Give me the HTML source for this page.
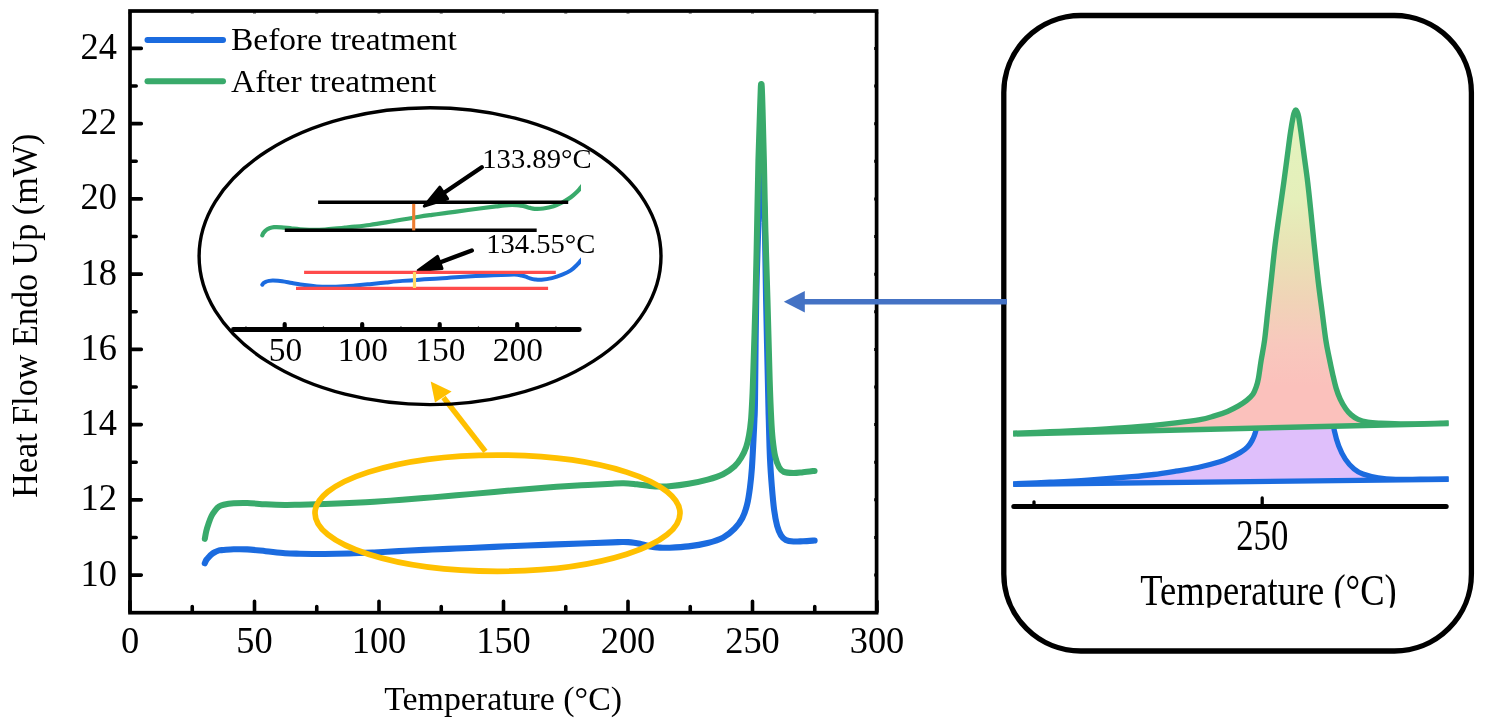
<!DOCTYPE html>
<html lang="en"><head><meta charset="utf-8"><title>DSC curves</title>
<style>html,body{margin:0;padding:0;background:#fff}svg{display:block;will-change:transform}</style></head>
<body>
<svg width="1486" height="728" viewBox="0 0 1486 728">
<defs><linearGradient id="gpk" x1="0" y1="110" x2="0" y2="410" gradientUnits="userSpaceOnUse"><stop offset="0" stop-color="#e2f3be"/><stop offset="0.3" stop-color="#e5efba"/><stop offset="0.47" stop-color="#e9e2b5"/><stop offset="0.63" stop-color="#f0d4b7"/><stop offset="0.78" stop-color="#f8c8bd"/><stop offset="0.92" stop-color="#fbc1bc"/><stop offset="1" stop-color="#fbc1bc"/></linearGradient></defs>
<rect width="1486" height="728" fill="#fff"/>
<path d="M204.80,563.30 C205.05,562.75 205.68,560.98 206.30,560.00 C206.92,559.02 207.63,558.35 208.50,557.40 C209.37,556.45 210.38,555.20 211.50,554.30 C212.62,553.40 213.95,552.65 215.20,552.00 C216.45,551.35 217.60,550.73 219.00,550.40 C220.40,550.07 221.15,550.18 223.60,550.00 C226.05,549.82 229.77,549.40 233.70,549.30 C237.63,549.20 241.87,549.08 247.20,549.40 C252.53,549.72 259.40,550.57 265.70,551.20 C272.00,551.83 279.28,552.78 285.00,553.20 C290.72,553.62 293.38,553.59 300.00,553.73 C306.62,553.86 316.45,554.03 324.70,553.99 C332.95,553.96 341.25,553.79 349.50,553.53 C357.75,553.27 365.97,552.86 374.20,552.46 C382.43,552.06 390.67,551.57 398.90,551.14 C407.13,550.72 415.35,550.30 423.60,549.92 C431.85,549.54 440.67,549.19 448.40,548.86 C456.13,548.53 460.22,548.37 470.00,547.95 C479.78,547.52 494.73,546.84 507.10,546.32 C519.47,545.80 531.83,545.31 544.20,544.84 C556.57,544.37 569.97,543.90 581.30,543.49 C592.63,543.07 605.42,542.60 612.20,542.35 C618.98,542.11 619.32,542.04 622.00,542.00 C624.68,541.96 626.30,541.98 628.30,542.10 C630.30,542.22 632.05,542.42 634.00,542.70 C635.95,542.98 637.33,543.18 640.00,543.80 C642.67,544.42 646.67,545.77 650.00,546.40 C653.33,547.03 656.80,547.38 660.00,547.60 C663.20,547.82 664.45,547.90 669.20,547.70 C673.95,547.50 682.08,547.18 688.50,546.40 C694.92,545.62 701.93,544.47 707.70,543.00 C713.47,541.53 718.62,539.98 723.10,537.60 C727.58,535.22 731.40,531.95 734.60,528.70 C737.80,525.45 740.22,522.12 742.30,518.10 C744.38,514.08 745.82,509.73 747.10,504.60 C748.38,499.47 749.20,493.38 750.00,487.30 C750.80,481.22 751.32,476.12 751.90,468.10 C752.48,460.08 753.08,447.22 753.50,439.20 C753.92,431.18 754.15,426.53 754.40,420.00 C754.65,413.47 754.70,420.00 755.00,400.00 C755.30,380.00 755.63,329.50 756.20,300.00 C756.77,270.50 757.80,243.50 758.40,223.00 C759.00,202.50 759.37,189.17 759.80,177.00 C760.23,164.83 760.75,155.00 761.00,150.00 C761.25,145.00 761.20,147.00 761.30,147.00 C761.40,147.00 761.32,145.00 761.60,150.00 C761.88,155.00 762.47,164.83 763.00,177.00 C763.53,189.17 764.28,202.50 764.80,223.00 C765.32,243.50 765.52,270.50 766.10,300.00 C766.68,329.50 767.85,380.00 768.30,400.00 C768.75,420.00 768.52,410.25 768.80,420.00 C769.08,429.75 769.48,447.28 770.00,458.50 C770.52,469.72 771.20,478.65 771.90,487.30 C772.60,495.95 773.33,503.98 774.20,510.40 C775.07,516.82 775.97,521.63 777.10,525.80 C778.23,529.97 779.55,533.03 781.00,535.40 C782.45,537.77 783.72,538.98 785.80,540.00 C787.88,541.02 790.63,541.30 793.50,541.50 C796.37,541.70 799.48,541.37 803.00,541.20 C806.52,541.03 812.67,540.62 814.60,540.50" fill="none" stroke="#1b6bdf" stroke-width="6.1" stroke-linecap="round" stroke-linejoin="round"/>
<path d="M204.80,538.90 C205.05,537.58 205.68,533.53 206.30,531.00 C206.92,528.47 207.63,526.20 208.50,523.70 C209.37,521.20 210.38,518.23 211.50,516.00 C212.62,513.77 213.95,511.87 215.20,510.30 C216.45,508.73 217.60,507.52 219.00,506.60 C220.40,505.68 221.15,505.35 223.60,504.80 C226.05,504.25 229.77,503.60 233.70,503.30 C237.63,503.00 241.87,502.83 247.20,503.00 C252.53,503.17 259.40,503.97 265.70,504.30 C272.00,504.63 279.28,504.93 285.00,505.00 C290.72,505.07 293.38,504.88 300.00,504.72 C306.62,504.55 316.45,504.29 324.70,504.01 C332.95,503.73 341.25,503.42 349.50,503.04 C357.75,502.65 365.97,502.22 374.20,501.71 C382.43,501.21 390.67,500.62 398.90,500.01 C407.13,499.41 415.35,498.74 423.60,498.07 C431.85,497.41 440.67,496.68 448.40,496.02 C456.13,495.37 460.22,495.00 470.00,494.12 C479.78,493.23 494.73,491.80 507.10,490.74 C519.47,489.67 531.83,488.62 544.20,487.72 C556.57,486.81 569.97,485.97 581.30,485.31 C592.63,484.64 605.42,484.05 612.20,483.71 C618.98,483.38 619.32,483.35 622.00,483.30 C624.68,483.25 626.30,483.30 628.30,483.40 C630.30,483.50 632.05,483.68 634.00,483.90 C635.95,484.12 637.33,484.37 640.00,484.70 C642.67,485.03 646.67,485.60 650.00,485.90 C653.33,486.20 656.80,486.43 660.00,486.50 C663.20,486.57 664.45,486.75 669.20,486.30 C673.95,485.85 682.08,484.92 688.50,483.80 C694.92,482.68 701.93,481.20 707.70,479.60 C713.47,478.00 718.62,476.43 723.10,474.20 C727.58,471.97 731.57,468.98 734.60,466.20 C737.63,463.42 739.37,460.72 741.30,457.50 C743.23,454.28 744.92,450.58 746.20,446.90 C747.48,443.22 748.20,439.88 749.00,435.40 C749.80,430.92 750.47,425.90 751.00,420.00 C751.53,414.10 751.87,406.67 752.20,400.00 C752.53,393.33 752.45,396.67 753.00,380.00 C753.55,363.33 754.83,325.00 755.50,300.00 C756.17,275.00 756.52,253.33 757.00,230.00 C757.48,206.67 757.90,180.00 758.40,160.00 C758.90,140.00 759.60,122.17 760.00,110.00 C760.40,97.83 760.58,91.28 760.80,87.00 C761.02,82.72 761.13,84.30 761.30,84.30 C761.47,84.30 761.58,82.72 761.80,87.00 C762.02,91.28 762.25,97.83 762.60,110.00 C762.95,122.17 763.43,140.00 763.90,160.00 C764.37,180.00 764.80,206.67 765.40,230.00 C766.00,253.33 766.78,275.00 767.50,300.00 C768.22,325.00 769.07,360.00 769.70,380.00 C770.33,400.00 770.80,410.13 771.30,420.00 C771.80,429.87 772.05,433.12 772.70,439.20 C773.35,445.28 774.15,451.85 775.20,456.50 C776.25,461.15 777.57,464.53 779.00,467.10 C780.43,469.67 781.38,470.92 783.80,471.90 C786.22,472.88 790.30,472.95 793.50,473.00 C796.70,473.05 799.48,472.55 803.00,472.20 C806.52,471.85 812.67,471.12 814.60,470.90" fill="none" stroke="#39aa6b" stroke-width="6.0" stroke-linecap="round" stroke-linejoin="round"/>
<rect x="130" y="11" width="746.6" height="601.7" fill="none" stroke="#000" stroke-width="3.7"/>
<path d="M131,575.10 H141.30 M131,537.48 H136.20 M131,499.86 H141.30 M131,462.24 H136.20 M131,424.62 H141.30 M131,387.00 H136.20 M131,349.38 H141.30 M131,311.76 H136.20 M131,274.14 H141.30 M131,236.52 H136.20 M131,198.90 H141.30 M131,161.28 H136.20 M131,123.66 H141.30 M131,86.04 H136.20 M131,48.42 H141.30 M130.00,611.7 V601.20 M192.25,611.7 V606.50 M254.50,611.7 V601.20 M316.75,611.7 V606.50 M379.00,611.7 V601.20 M441.25,611.7 V606.50 M503.50,611.7 V601.20 M565.75,611.7 V606.50 M628.00,611.7 V601.20 M690.25,611.7 V606.50 M752.50,611.7 V601.20 M814.75,611.7 V606.50 M877.00,611.7 V601.20" stroke="#000" stroke-width="3.6" stroke-linecap="round" fill="none"/>
<path d="M875,575.10 H874 M875,537.48 H874 M875,499.86 H874 M875,462.24 H874 M875,424.62 H874 M875,387.00 H874 M875,349.38 H874 M875,311.76 H874 M875,274.14 H874 M875,236.52 H874 M875,198.90 H874 M875,161.28 H874 M875,123.66 H874 M875,86.04 H874 M875,48.42 H874 M130.00,12.5 V13.6 M192.25,12.5 V13.6 M254.50,12.5 V13.6 M316.75,12.5 V13.6 M379.00,12.5 V13.6 M441.25,12.5 V13.6 M503.50,12.5 V13.6 M565.75,12.5 V13.6 M628.00,12.5 V13.6 M690.25,12.5 V13.6 M752.50,12.5 V13.6 M814.75,12.5 V13.6 M877.00,12.5 V13.6" stroke="#000" stroke-width="3" fill="none" opacity="0.8"/>
<g font-family="Liberation Serif, Times New Roman, serif" font-size="38" fill="#000">
<text transform="translate(117.0,585.6) scale(0.958,1)" text-anchor="end">10</text>
<text transform="translate(117.0,510.4) scale(0.958,1)" text-anchor="end">12</text>
<text transform="translate(117.0,435.1) scale(0.958,1)" text-anchor="end">14</text>
<text transform="translate(117.0,359.9) scale(0.958,1)" text-anchor="end">16</text>
<text transform="translate(117.0,284.6) scale(0.958,1)" text-anchor="end">18</text>
<text transform="translate(117.0,209.4) scale(0.958,1)" text-anchor="end">20</text>
<text transform="translate(117.0,134.2) scale(0.958,1)" text-anchor="end">22</text>
<text transform="translate(117.0,58.9) scale(0.958,1)" text-anchor="end">24</text>
<text transform="translate(130.0,653.0) scale(0.958,1)" text-anchor="middle">0</text>
<text transform="translate(254.5,653.0) scale(0.958,1)" text-anchor="middle">50</text>
<text transform="translate(379.0,653.0) scale(0.958,1)" text-anchor="middle">100</text>
<text transform="translate(503.5,653.0) scale(0.958,1)" text-anchor="middle">150</text>
<text transform="translate(628.0,653.0) scale(0.958,1)" text-anchor="middle">200</text>
<text transform="translate(752.5,653.0) scale(0.958,1)" text-anchor="middle">250</text>
<text transform="translate(877.0,653.0) scale(0.958,1)" text-anchor="middle">300</text>
</g>
<text transform="translate(503.1,709.5) scale(1.027,1)" text-anchor="middle" font-family="Liberation Serif, Times New Roman, serif" font-size="33">Temperature (°C)</text>
<text transform="translate(37.1,315.7) rotate(-90) scale(0.981,1)" text-anchor="middle" font-family="Liberation Serif, Times New Roman, serif" font-size="34.8">Heat Flow Endo Up (mW)</text>
<path d="M147.5,40 H223" stroke="#1b6bdf" stroke-width="6" stroke-linecap="round"/>
<path d="M147.5,81.3 H223" stroke="#39aa6b" stroke-width="6" stroke-linecap="round"/>
<text transform="translate(231.0,50.4) scale(1.03,1)" font-family="Liberation Serif, Times New Roman, serif" font-size="32.5">Before treatment</text>
<text transform="translate(231.0,92.0) scale(1.03,1)" font-family="Liberation Serif, Times New Roman, serif" font-size="32.5">After treatment</text>
<ellipse cx="497.5" cy="513.2" rx="182.5" ry="58.1" fill="none" stroke="#ffc000" stroke-width="5.7"/>
<path d="M485.4,451.4 L443.5,397.5" stroke="#ffc000" stroke-width="5.3" fill="none"/>
<path d="M430.7,381.5 L451.6,391.5 L435.0,402.6 Z" fill="#ffc000"/>
<ellipse cx="430.05" cy="256.2" rx="230.95" ry="148.4" fill="none" stroke="#000" stroke-width="3.4"/>
<clipPath id="ci"><rect x="250" y="150" width="331.0" height="160"/></clipPath>
<path clip-path="url(#ci)" d="M262.30,235.40 C262.47,235.03 262.87,233.88 263.30,233.20 C263.73,232.52 264.32,231.90 264.90,231.30 C265.48,230.70 266.12,230.08 266.80,229.60 C267.48,229.12 267.80,228.80 269.00,228.40 C270.20,228.00 271.93,227.38 274.00,227.20 C276.07,227.02 278.38,227.08 281.40,227.30 C284.42,227.52 288.25,228.13 292.10,228.53 C295.95,228.92 300.78,229.43 304.50,229.67 C308.22,229.91 310.97,230.00 314.40,229.97 C317.83,229.93 321.27,229.74 325.10,229.47 C328.93,229.21 334.08,228.69 337.40,228.39 C340.72,228.09 342.07,227.95 345.00,227.67 C347.93,227.39 350.88,227.16 355.00,226.71 C359.12,226.26 364.50,225.68 369.70,224.96 C374.90,224.24 380.70,223.30 386.20,222.39 C391.70,221.48 397.20,220.42 402.70,219.48 C408.20,218.53 414.32,217.49 419.20,216.73 C424.08,215.96 427.70,215.48 432.00,214.88 C436.30,214.28 441.22,213.65 445.00,213.14 C448.78,212.63 448.95,212.60 454.70,211.83 C460.45,211.05 472.62,209.38 479.50,208.48 C486.38,207.58 491.20,207.00 496.00,206.44 C500.80,205.87 504.87,205.32 508.30,205.10 C511.73,204.88 514.57,205.02 516.60,205.10 C518.63,205.18 519.13,205.38 520.50,205.60 C521.87,205.82 523.22,206.02 524.80,206.40 C526.38,206.78 528.35,207.50 530.00,207.90 C531.65,208.30 532.48,208.70 534.70,208.80 C536.92,208.90 540.15,208.92 543.30,208.50 C546.45,208.08 550.45,207.30 553.60,206.30 C556.75,205.30 559.33,204.00 562.20,202.50 C565.07,201.00 568.23,199.17 570.80,197.30 C573.37,195.43 575.98,192.87 577.60,191.30 C579.22,189.73 579.43,189.18 580.50,187.90 C581.57,186.62 583.42,184.32 584.00,183.60" fill="none" stroke="#39aa6b" stroke-width="4.2" stroke-linecap="round" stroke-linejoin="round"/>
<path clip-path="url(#ci)" d="M262.30,284.70 C262.52,284.42 263.03,283.48 263.60,283.00 C264.17,282.52 264.80,282.15 265.70,281.80 C266.60,281.45 267.77,281.10 269.00,280.90 C270.23,280.70 270.90,280.55 273.10,280.60 C275.30,280.65 279.03,280.80 282.20,281.20 C285.37,281.60 288.38,282.38 292.10,283.03 C295.82,283.67 300.38,284.51 304.50,285.08 C308.62,285.64 312.68,286.15 316.80,286.44 C320.92,286.73 324.50,286.85 329.20,286.82 C333.90,286.79 340.70,286.49 345.00,286.28 C349.30,286.06 350.88,285.90 355.00,285.55 C359.12,285.19 364.50,284.66 369.70,284.14 C374.90,283.62 380.70,282.99 386.20,282.45 C391.70,281.91 397.20,281.35 402.70,280.88 C408.20,280.41 413.77,280.01 419.20,279.64 C424.63,279.27 430.67,278.96 435.30,278.66 C439.93,278.37 442.93,278.16 447.00,277.88 C451.07,277.61 453.45,277.37 459.70,277.00 C465.95,276.62 476.25,276.03 484.50,275.65 C492.75,275.26 503.72,274.86 509.20,274.70 C514.68,274.54 515.35,274.57 517.40,274.70 C519.45,274.83 520.12,275.17 521.50,275.50 C522.88,275.83 524.28,276.22 525.70,276.70 C527.12,277.18 528.45,277.93 530.00,278.40 C531.55,278.87 533.08,279.27 535.00,279.50 C536.92,279.73 538.68,280.03 541.50,279.80 C544.32,279.57 548.45,278.95 551.90,278.10 C555.35,277.25 559.05,275.98 562.20,274.70 C565.35,273.42 568.23,272.13 570.80,270.40 C573.37,268.67 575.98,265.88 577.60,264.30 C579.22,262.72 579.43,262.18 580.50,260.90 C581.57,259.62 583.42,257.32 584.00,256.60" fill="none" stroke="#1b6bdf" stroke-width="4.0" stroke-linecap="round" stroke-linejoin="round"/>
<path d="M233.4,329.5 H579.3" stroke="#000" stroke-width="4.8" stroke-linecap="round"/>
<path d="M284.70,329 V324.1 M362.20,329 V324.1 M439.70,329 V324.1 M517.20,329 V324.1" stroke="#000" stroke-width="4.2" stroke-linecap="round"/>
<path d="M245.95,329 V326.3 M323.45,329 V326.3 M400.95,329 V326.3 M478.45,329 V326.3 M555.95,329 V326.3" stroke="#000" stroke-width="1.2" opacity="0.7"/>
<g font-family="Liberation Serif, Times New Roman, serif" font-size="33.4" text-anchor="middle">
<text x="285.4" y="361.3">50</text>
<text x="362.9" y="361.3">100</text>
<text x="440.4" y="361.3">150</text>
<text x="517.9" y="361.3">200</text>
</g>
<text transform="translate(482.3,167.8) scale(1.025,1)" font-family="Liberation Serif, Times New Roman, serif" font-size="27.9">133.89°C</text>
<text transform="translate(486.2,253.1) scale(1.025,1)" font-family="Liberation Serif, Times New Roman, serif" font-size="27.9">134.55°C</text>
<path d="M481.80,167.20 L443.70,192.99" stroke="#000" stroke-width="4.4" stroke-linecap="round" fill="none"/><path d="M424.24,206.16 L439.78,187.19 L447.63,198.78 Z" fill="#000" stroke="#000" stroke-width="3" stroke-linejoin="round"/>
<path d="M471.80,250.50 L439.76,262.44" stroke="#000" stroke-width="4.4" stroke-linecap="round" fill="none"/><path d="M418.21,270.48 L437.49,256.35 L442.03,268.53 Z" fill="#000" stroke="#000" stroke-width="3" stroke-linejoin="round"/>
<path d="M318.1,202.3 H568.2 M284.8,230.2 H536.7" stroke="#000" stroke-width="3.5" fill="none"/>
<path d="M304.1,272.4 H555.8 M296,288.45 H548.1" stroke="#ff4b4b" stroke-width="3.2" fill="none"/>
<path d="M413.7,203.9 V230.4" stroke="#ed7d31" stroke-width="3.1"/>
<path d="M414.5,272.1 V288" stroke="#ffd966" stroke-width="3.2"/>
<path d="M1013.20,483.80 C1019.33,483.53 1037.55,482.82 1050.00,482.20 C1062.45,481.58 1074.25,481.02 1087.90,480.10 C1101.55,479.18 1120.92,477.63 1131.90,476.70 C1142.88,475.77 1146.48,475.42 1153.80,474.50 C1161.12,473.58 1168.47,472.37 1175.80,471.20 C1183.13,470.03 1190.47,469.07 1197.80,467.50 C1205.13,465.93 1214.30,463.48 1219.80,461.80 C1225.30,460.12 1227.43,458.93 1230.80,457.40 C1234.17,455.87 1237.63,453.97 1240.00,452.60 C1242.37,451.23 1243.50,450.43 1245.00,449.20 C1246.50,447.97 1247.83,446.63 1249.00,445.20 C1250.17,443.77 1251.12,442.20 1252.00,440.60 C1252.88,439.00 1253.63,437.37 1254.30,435.60 C1254.97,433.83 1255.38,432.93 1256.00,430.00 C1256.62,427.07 1257.67,420.00 1258.00,418.00 L1332.50,418.00 C1332.80,420.08 1333.27,425.85 1334.30,430.50 C1335.33,435.15 1336.87,441.13 1338.70,445.90 C1340.53,450.67 1342.73,455.25 1345.30,459.10 C1347.87,462.95 1351.17,466.52 1354.10,469.00 C1357.03,471.48 1358.88,472.53 1362.90,474.00 C1366.92,475.47 1372.72,476.92 1378.20,477.80 C1383.68,478.68 1388.83,479.07 1395.80,479.30 C1402.77,479.53 1411.20,479.27 1420.00,479.20 C1428.80,479.13 1443.83,478.95 1448.60,478.90 L1448.6,479.3 L1013.2,484.3 Z" fill="#dfbffb" stroke="none"/>
<path d="M1013.2,484.3 L1448.6,479.3" stroke="#1b6bdf" stroke-width="5.3" fill="none"/>
<path d="M1013.20,483.80 C1019.33,483.53 1037.55,482.82 1050.00,482.20 C1062.45,481.58 1074.25,481.02 1087.90,480.10 C1101.55,479.18 1120.92,477.63 1131.90,476.70 C1142.88,475.77 1146.48,475.42 1153.80,474.50 C1161.12,473.58 1168.47,472.37 1175.80,471.20 C1183.13,470.03 1190.47,469.07 1197.80,467.50 C1205.13,465.93 1214.30,463.48 1219.80,461.80 C1225.30,460.12 1227.43,458.93 1230.80,457.40 C1234.17,455.87 1237.63,453.97 1240.00,452.60 C1242.37,451.23 1243.50,450.43 1245.00,449.20 C1246.50,447.97 1247.83,446.63 1249.00,445.20 C1250.17,443.77 1251.12,442.20 1252.00,440.60 C1252.88,439.00 1253.63,437.37 1254.30,435.60 C1254.97,433.83 1255.38,432.93 1256.00,430.00 C1256.62,427.07 1257.67,420.00 1258.00,418.00" fill="none" stroke="#1b6bdf" stroke-width="5.3" stroke-linejoin="round"/>
<path d="M1332.50,418.00 C1332.80,420.08 1333.27,425.85 1334.30,430.50 C1335.33,435.15 1336.87,441.13 1338.70,445.90 C1340.53,450.67 1342.73,455.25 1345.30,459.10 C1347.87,462.95 1351.17,466.52 1354.10,469.00 C1357.03,471.48 1358.88,472.53 1362.90,474.00 C1366.92,475.47 1372.72,476.92 1378.20,477.80 C1383.68,478.68 1388.83,479.07 1395.80,479.30 C1402.77,479.53 1411.20,479.27 1420.00,479.20 C1428.80,479.13 1443.83,478.95 1448.60,478.90" fill="none" stroke="#1b6bdf" stroke-width="5.3" stroke-linejoin="round"/>
<path d="M1013.20,433.20 C1019.33,432.97 1037.55,432.33 1050.00,431.80 C1062.45,431.27 1074.25,430.75 1087.90,430.00 C1101.55,429.25 1117.25,428.48 1131.90,427.30 C1146.55,426.12 1164.45,424.17 1175.80,422.90 C1187.15,421.63 1193.68,420.82 1200.00,419.70 C1206.32,418.58 1209.12,417.58 1213.70,416.20 C1218.28,414.82 1223.37,413.12 1227.50,411.40 C1231.63,409.68 1235.30,407.73 1238.50,405.90 C1241.70,404.07 1244.30,402.33 1246.70,400.40 C1249.10,398.47 1251.30,396.58 1252.90,394.30 C1254.50,392.02 1255.38,389.33 1256.30,386.70 C1257.22,384.07 1257.60,382.85 1258.40,378.50 C1259.20,374.15 1260.07,367.02 1261.10,360.60 C1262.13,354.18 1263.47,348.43 1264.60,340.00 C1265.73,331.57 1266.82,319.77 1267.90,310.00 C1268.98,300.23 1269.92,292.12 1271.10,281.40 C1272.28,270.68 1273.58,257.27 1275.00,245.70 C1276.42,234.13 1278.13,222.55 1279.60,212.00 C1281.07,201.45 1282.55,191.45 1283.80,182.40 C1285.05,173.35 1286.00,165.93 1287.10,157.70 C1288.20,149.47 1289.38,139.87 1290.40,133.00 C1291.42,126.13 1292.47,120.12 1293.20,116.50 C1293.93,112.88 1294.37,112.38 1294.80,111.30 C1295.23,110.22 1295.45,110.00 1295.80,110.00 C1296.15,110.00 1296.43,110.22 1296.90,111.30 C1297.37,112.38 1297.90,112.88 1298.60,116.50 C1299.30,120.12 1300.13,126.13 1301.10,133.00 C1302.07,139.87 1303.30,149.47 1304.40,157.70 C1305.50,165.93 1306.62,173.35 1307.70,182.40 C1308.78,191.45 1309.80,201.45 1310.90,212.00 C1312.00,222.55 1313.08,234.13 1314.30,245.70 C1315.52,257.27 1316.93,270.68 1318.20,281.40 C1319.47,292.12 1320.63,300.23 1321.90,310.00 C1323.17,319.77 1324.58,332.02 1325.80,340.00 C1327.02,347.98 1328.05,352.18 1329.20,357.90 C1330.35,363.62 1331.55,369.27 1332.70,374.30 C1333.85,379.33 1334.85,383.97 1336.10,388.10 C1337.35,392.23 1338.60,395.67 1340.20,399.10 C1341.80,402.53 1343.87,406.07 1345.70,408.70 C1347.53,411.33 1349.13,413.12 1351.20,414.90 C1353.27,416.68 1355.35,418.20 1358.10,419.40 C1360.85,420.60 1364.27,421.48 1367.70,422.10 C1371.13,422.72 1372.18,422.80 1378.70,423.10 C1385.22,423.40 1395.15,423.93 1406.80,423.90 C1418.45,423.87 1441.63,423.07 1448.60,422.90 L1448.6,423.5 L1013.2,434.0 Z" fill="url(#gpk)" stroke="none"/>
<path d="M1013.2,434.0 L1448.6,423.5" stroke="#39aa6b" stroke-width="5.4" fill="none"/>
<path d="M1013.20,433.20 C1019.33,432.97 1037.55,432.33 1050.00,431.80 C1062.45,431.27 1074.25,430.75 1087.90,430.00 C1101.55,429.25 1117.25,428.48 1131.90,427.30 C1146.55,426.12 1164.45,424.17 1175.80,422.90 C1187.15,421.63 1193.68,420.82 1200.00,419.70 C1206.32,418.58 1209.12,417.58 1213.70,416.20 C1218.28,414.82 1223.37,413.12 1227.50,411.40 C1231.63,409.68 1235.30,407.73 1238.50,405.90 C1241.70,404.07 1244.30,402.33 1246.70,400.40 C1249.10,398.47 1251.30,396.58 1252.90,394.30 C1254.50,392.02 1255.38,389.33 1256.30,386.70 C1257.22,384.07 1257.60,382.85 1258.40,378.50 C1259.20,374.15 1260.07,367.02 1261.10,360.60 C1262.13,354.18 1263.47,348.43 1264.60,340.00 C1265.73,331.57 1266.82,319.77 1267.90,310.00 C1268.98,300.23 1269.92,292.12 1271.10,281.40 C1272.28,270.68 1273.58,257.27 1275.00,245.70 C1276.42,234.13 1278.13,222.55 1279.60,212.00 C1281.07,201.45 1282.55,191.45 1283.80,182.40 C1285.05,173.35 1286.00,165.93 1287.10,157.70 C1288.20,149.47 1289.38,139.87 1290.40,133.00 C1291.42,126.13 1292.47,120.12 1293.20,116.50 C1293.93,112.88 1294.37,112.38 1294.80,111.30 C1295.23,110.22 1295.45,110.00 1295.80,110.00 C1296.15,110.00 1296.43,110.22 1296.90,111.30 C1297.37,112.38 1297.90,112.88 1298.60,116.50 C1299.30,120.12 1300.13,126.13 1301.10,133.00 C1302.07,139.87 1303.30,149.47 1304.40,157.70 C1305.50,165.93 1306.62,173.35 1307.70,182.40 C1308.78,191.45 1309.80,201.45 1310.90,212.00 C1312.00,222.55 1313.08,234.13 1314.30,245.70 C1315.52,257.27 1316.93,270.68 1318.20,281.40 C1319.47,292.12 1320.63,300.23 1321.90,310.00 C1323.17,319.77 1324.58,332.02 1325.80,340.00 C1327.02,347.98 1328.05,352.18 1329.20,357.90 C1330.35,363.62 1331.55,369.27 1332.70,374.30 C1333.85,379.33 1334.85,383.97 1336.10,388.10 C1337.35,392.23 1338.60,395.67 1340.20,399.10 C1341.80,402.53 1343.87,406.07 1345.70,408.70 C1347.53,411.33 1349.13,413.12 1351.20,414.90 C1353.27,416.68 1355.35,418.20 1358.10,419.40 C1360.85,420.60 1364.27,421.48 1367.70,422.10 C1371.13,422.72 1372.18,422.80 1378.70,423.10 C1385.22,423.40 1395.15,423.93 1406.80,423.90 C1418.45,423.87 1441.63,423.07 1448.60,422.90" fill="none" stroke="#39aa6b" stroke-width="5.4" stroke-linejoin="round"/>
<path d="M1013.8,506.4 H1446.2" stroke="#000" stroke-width="5" stroke-linecap="round"/>
<path d="M1034,505 V501.8 M1262.2,505 V498" stroke="#000" stroke-width="3.3" stroke-linecap="round"/>
<clipPath id="cl"><rect x="1100" y="500" width="340" height="107.7"/></clipPath>
<g clip-path="url(#cl)" font-family="Liberation Serif, Times New Roman, serif" font-size="43.4" text-anchor="middle">
<text transform="translate(1262.3,549.6) scale(0.80,1)">250</text>
<text transform="translate(1268.5,604.7) scale(0.8415,1)">Temperature (°C)</text>
</g>
<rect x="1003.8" y="15.5" width="467.6" height="635.5" rx="77" ry="77" fill="none" stroke="#000" stroke-width="5.3"/>
<path d="M1006.9,301.7 H803" stroke="#4472c4" stroke-width="5.5"/>
<path d="M783.8,301.7 L804.8,291.0 V312.4 Z" fill="#4472c4"/>
</svg>
</body></html>
